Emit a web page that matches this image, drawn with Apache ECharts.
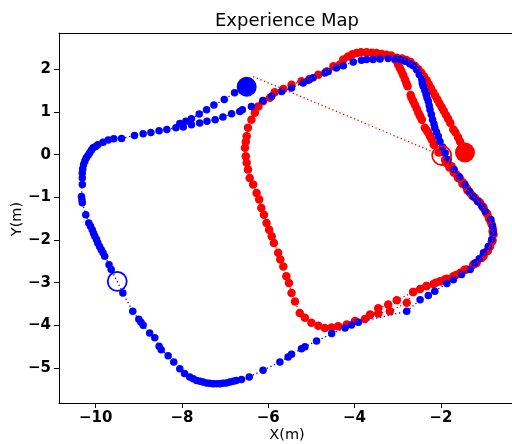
<!DOCTYPE html>
<html>
<head>
<meta charset="utf-8">
<title>Experience Map</title>
<script src="https://cdn.jsdelivr.net/npm/echarts@6/dist/echarts.min.js"></script>
<style>
  body { margin: 0; }
  #main { width: 512px; height: 444px; background: #fff; }
</style>
</head>
<body>
<div id="main"></div>
<script>
// tick labels
var xTicks = [-10, -8, -6, -4, -2];
var yTicks = [-5, -4, -3, -2, -1, 0, 1, 2];

// blue map: start -> left side -> bottom -> right side -> middle strand -> top -> lower strand
var blueTrack = [
  [-6.50, 1.59], [-6.78, 1.45], [-7.02, 1.29], [-7.26, 1.16], [-7.43, 1.05], [-7.60, 0.95],
  [-7.78, 0.84], [-7.91, 0.78], [-8.05, 0.73], [-8.14, 0.63], [-8.35, 0.59], [-8.53, 0.56],
  [-8.72, 0.52], [-8.90, 0.49], [-9.10, 0.45], [-9.40, 0.38], [-9.58, 0.37], [-9.71, 0.34],
  [-9.83, 0.29], [-9.95, 0.23], [-10.00, 0.19], [-10.06, 0.16], [-10.10, 0.10], [-10.14, 0.04],
  [-10.18, -0.02], [-10.22, -0.08], [-10.25, -0.15], [-10.28, -0.23], [-10.30, -0.33], [-10.31, -0.43],
  [-10.31, -0.55], [-10.31, -0.70], [-10.33, -0.98], [-10.32, -1.05], [-10.31, -1.13], [-10.23, -1.41],
  [-10.16, -1.60], [-10.12, -1.68], [-10.08, -1.76], [-10.05, -1.84], [-10.02, -1.91], [-9.98, -1.99],
  [-9.95, -2.07], [-9.91, -2.15], [-9.87, -2.23], [-9.83, -2.30], [-9.79, -2.38], [-9.69, -2.58],
  [-9.64, -2.69], [-9.37, -3.24], [-9.14, -3.67], [-9.00, -3.86], [-8.95, -3.93], [-8.90, -4.00],
  [-8.75, -4.18], [-8.63, -4.29], [-8.53, -4.49], [-8.48, -4.57], [-8.32, -4.71], [-8.19, -4.86],
  [-8.05, -5.02], [-7.94, -5.13], [-7.82, -5.21], [-7.74, -5.25], [-7.66, -5.29], [-7.58, -5.31],
  [-7.51, -5.33], [-7.43, -5.35], [-7.36, -5.36], [-7.28, -5.37], [-7.20, -5.37], [-7.12, -5.37],
  [-7.05, -5.36], [-6.97, -5.35], [-6.89, -5.33], [-6.81, -5.31], [-6.74, -5.29], [-6.62, -5.27],
  [-6.44, -5.21], [-6.12, -5.05], [-5.73, -4.86], [-5.54, -4.74], [-5.46, -4.68], [-5.23, -4.55],
  [-5.15, -4.50], [-4.88, -4.37], [-4.53, -4.19], [-4.22, -4.06], [-4.07, -3.99], [-3.91, -3.93],
  [-2.79, -3.67], [-2.48, -3.40], [-2.29, -3.30], [-2.14, -3.20], [-1.86, -3.02], [-1.71, -2.93],
  [-1.52, -2.81], [-1.32, -2.69], [-1.21, -2.54], [-1.11, -2.44], [-1.01, -2.30], [-0.90, -2.15],
  [-0.82, -1.99], [-0.78, -1.83], [-0.80, -1.68], [-0.84, -1.52], [-0.97, -1.33], [-1.05, -1.21],
  [-1.15, -1.09], [-1.25, -0.98], [-1.34, -0.86], [-1.44, -0.70], [-1.57, -0.52], [-1.69, -0.35],
  [-1.83, -0.12], [-1.90, 0.04], [-1.96, 0.18], [-2.02, 0.31], [-2.06, 0.43], [-2.10, 0.53],
  [-2.14, 0.63], [-2.16, 0.72], [-2.19, 0.82], [-2.22, 0.94], [-2.25, 1.05], [-2.27, 1.15],
  [-2.29, 1.25], [-2.32, 1.33], [-2.34, 1.41], [-2.37, 1.50], [-2.41, 1.60], [-2.43, 1.68],
  [-2.44, 1.76], [-2.50, 1.87], [-2.56, 1.99], [-2.64, 2.08], [-2.72, 2.13], [-2.83, 2.19],
  [-2.95, 2.23], [-3.06, 2.24], [-3.22, 2.25], [-3.41, 2.24], [-3.57, 2.23], [-3.72, 2.23],
  [-3.84, 2.21], [-4.03, 2.17], [-4.26, 2.08], [-4.42, 2.03], [-4.61, 1.95], [-4.69, 1.91],
  [-4.96, 1.80], [-5.07, 1.74], [-5.19, 1.68], [-5.46, 1.56], [-5.69, 1.48], [-5.92, 1.37],
  [-6.12, 1.27], [-6.39, 1.13], [-6.60, 1.05], [-6.66, 1.01], [-6.85, 0.96], [-7.05, 0.88],
  [-7.23, 0.82], [-7.42, 0.78], [-7.59, 0.74], [-7.78, 0.70], [-7.97, 0.65]
];

// red map, first lap: right side -> bottom -> left side -> top -> inner strand
var redLap1 = [
  [-1.88, -0.19], [-1.75, -0.27], [-1.63, -0.47], [-1.55, -0.57], [-1.48, -0.66], [-1.40, -0.78],
  [-1.32, -0.90], [-1.21, -1.01], [-1.09, -1.13], [-1.01, -1.25], [-0.94, -1.37], [-0.88, -1.50],
  [-0.82, -1.64], [-0.79, -1.76], [-0.78, -1.87], [-0.80, -2.01], [-0.86, -2.15], [-0.94, -2.27],
  [-1.01, -2.38], [-1.17, -2.54], [-1.25, -2.58], [-1.40, -2.69], [-1.55, -2.77], [-1.71, -2.85],
  [-1.86, -2.91], [-2.02, -2.97], [-2.17, -3.03], [-2.33, -3.08], [-2.48, -3.15], [-2.64, -3.22],
  [-2.79, -3.47], [-3.18, -3.67], [-3.45, -3.72], [-3.64, -3.75], [-3.76, -3.85], [-3.99, -3.90],
  [-4.18, -3.98], [-4.38, -4.02], [-4.53, -4.05], [-4.69, -4.06], [-4.84, -4.01], [-5.00, -3.94],
  [-5.15, -3.82], [-5.27, -3.71], [-5.38, -3.44], [-5.46, -3.24], [-5.52, -3.01], [-5.58, -2.85],
  [-5.65, -2.62], [-5.72, -2.46], [-5.77, -2.30], [-5.87, -2.07], [-5.92, -1.91], [-5.98, -1.76],
  [-6.04, -1.60], [-6.10, -1.41], [-6.16, -1.25], [-6.21, -1.05], [-6.27, -0.90], [-6.35, -0.70],
  [-6.43, -0.55], [-6.47, -0.35], [-6.50, -0.19], [-6.52, -0.04], [-6.54, 0.16], [-6.52, 0.30],
  [-6.50, 0.43], [-6.47, 0.63], [-6.39, 0.82], [-6.31, 0.98], [-6.23, 1.13], [-6.12, 1.25],
  [-5.96, 1.33], [-5.85, 1.46], [-5.65, 1.54], [-5.46, 1.64], [-5.23, 1.72], [-5.04, 1.77],
  [-4.84, 1.87], [-4.65, 1.95], [-4.49, 2.07], [-4.34, 2.11], [-4.26, 2.23], [-4.15, 2.30],
  [-4.05, 2.35], [-3.95, 2.38], [-3.85, 2.40], [-3.72, 2.40], [-3.60, 2.39], [-3.49, 2.38],
  [-3.37, 2.36], [-3.26, 2.34], [-3.15, 2.32], [-3.05, 2.22], [-2.99, 2.11], [-2.95, 2.03],
  [-2.91, 1.95], [-2.87, 1.86], [-2.83, 1.76], [-2.80, 1.68], [-2.77, 1.60], [-2.70, 1.40],
  [-2.68, 1.33], [-2.64, 1.25], [-2.60, 1.17], [-2.56, 1.08], [-2.52, 0.98], [-2.48, 0.90],
  [-2.44, 0.82], [-2.37, 0.63], [-2.33, 0.57], [-2.29, 0.51], [-2.25, 0.43], [-2.21, 0.35],
  [-2.16, 0.23]
];

// red map, second pass down the right side
var redLap2 = [
  [-2.16, 0.23], [-2.05, 0.05], [-1.90, -0.12], [-1.80, -0.30], [-1.70, -0.42], [-1.60, -0.55],
  [-1.50, -0.68], [-1.38, -0.84], [-1.27, -0.96], [-1.13, -1.09], [-1.02, -1.22], [-0.92, -1.40],
  [-0.84, -1.58], [-0.80, -1.80], [-0.82, -2.05], [-0.91, -2.25], [-1.05, -2.42], [-1.22, -2.56],
  [-1.45, -2.70], [-1.65, -2.82], [-1.90, -2.92], [-2.12, -3.00], [-2.33, -3.08], [-2.64, -3.22],
  [-3.02, -3.41], [-3.22, -3.51], [-3.45, -3.60], [-3.64, -3.75]
];

// red map, outer strand from the top down to the current position
var redOuter = [
  [-3.02, 2.27], [-2.90, 2.25], [-2.80, 2.22], [-2.70, 2.17], [-2.60, 2.08], [-2.52, 2.00],
  [-2.45, 1.92], [-2.39, 1.83], [-2.33, 1.74], [-2.28, 1.65], [-2.23, 1.56], [-2.18, 1.47],
  [-2.13, 1.38], [-2.08, 1.29], [-2.03, 1.20], [-1.98, 1.11], [-1.93, 1.02], [-1.88, 0.93],
  [-1.83, 0.84], [-1.78, 0.74], [-1.71, 0.59], [-1.66, 0.52], [-1.60, 0.41], [-1.555, 0.31],
  [-1.50, 0.20], [-1.44, 0.05]
];

// long red link
var redLink = [[-6.35, 1.83], [-1.98, -0.02], [-1.88, -0.19]];

var blueStart = [[-6.50, 1.59]];
var blueEnd = [[-9.50, -2.97]];
var redStart = [[-1.44, 0.05]];
var redEnd = [[-1.98, -0.02]];

var BLUE = '#0000ff';
var RED = '#ff0000';
var FONT = 'DejaVu Sans';

function minus(v) { return String(v).replace('-', '\u2212'); }

function track(data, color, size) {
  return [{
    type: 'line', data: data, showSymbol: false, silent: true,
    lineStyle: { color: color, width: 1.3, type: [1.3, 2.6] }
  }, {
    type: 'scatter', data: data, symbolSize: size, silent: true,
    itemStyle: { color: color, opacity: 1 }
  }];
}

var myChart = echarts.init(document.getElementById('main'));

var axisCommon = {
  type: 'value',
  splitLine: { show: false },
  axisLine: { show: true, onZero: false, lineStyle: { color: '#000', width: 1 } },
  axisTick: { show: true, length: 5, lineStyle: { color: '#000', width: 1 } },
  axisLabel: { color: '#000', fontSize: 15, fontWeight: 'bold', fontFamily: FONT, margin: 8, formatter: minus }
};

var series = [];
series = series.concat(
  [{ type: 'line', data: redLink, showSymbol: false, silent: true,
     lineStyle: { color: RED, width: 1.3, type: [1.3, 2.6] } }],
  track(redLap1, RED, 8.5),
  track(redLap2, RED, 8.5),
  track(redOuter, RED, 8.5),
  track(blueTrack, BLUE, 7.5)
);
series.push(
  { type: 'scatter', data: blueStart, symbolSize: 20, silent: true, itemStyle: { color: BLUE, opacity: 1 } },
  { type: 'scatter', data: redStart, symbolSize: 20, silent: true, itemStyle: { color: RED, opacity: 1 } },
  { type: 'scatter', data: blueEnd, symbolSize: 19, silent: true,
    itemStyle: { color: 'rgba(0,0,0,0)', borderColor: BLUE, borderWidth: 1.8, opacity: 1 } },
  { type: 'scatter', data: redEnd, symbolSize: 19, silent: true,
    itemStyle: { color: 'rgba(0,0,0,0)', borderColor: RED, borderWidth: 1.8, opacity: 1 } }
);

var option = {
  animation: false,
  backgroundColor: '#fff',
  grid: { left: 59, right: 0, top: 33, bottom: 41, containLabel: false },
  xAxis: [
    echarts.util.merge({
      position: 'bottom', min: -10.85, max: -0.35,
      axisTick: { customValues: xTicks },
      axisLabel: { customValues: xTicks }
    }, axisCommon),
    {
      type: 'value', position: 'top', min: -10.85, max: -0.35,
      splitLine: { show: false }, axisTick: { show: false }, axisLabel: { show: false },
      axisLine: { show: true, onZero: false, lineStyle: { color: '#000', width: 1 } }
    }
  ],
  yAxis: echarts.util.merge({
    position: 'left', min: -5.82, max: 2.85,
    axisTick: { customValues: yTicks },
    axisLabel: { customValues: yTicks }
  }, axisCommon),
  graphic: [
    { type: 'text', x: 287, y: 21, style: { text: 'Experience Map', fontSize: 18, fontFamily: FONT,
      fill: '#000', align: 'center', verticalAlign: 'middle' } },
    { type: 'text', x: 287, y: 435, style: { text: 'X(m)', fontSize: 14.5, fontFamily: FONT,
      fill: '#000', align: 'center', verticalAlign: 'middle' } },
    { type: 'text', x: 17, y: 219, rotation: Math.PI / 2, style: { text: 'Y(m)', fontSize: 14.5,
      fontFamily: FONT, fill: '#000', align: 'center', verticalAlign: 'middle' } }
  ],
  series: series
};

myChart.setOption(option);
</script>
</body>
</html>
